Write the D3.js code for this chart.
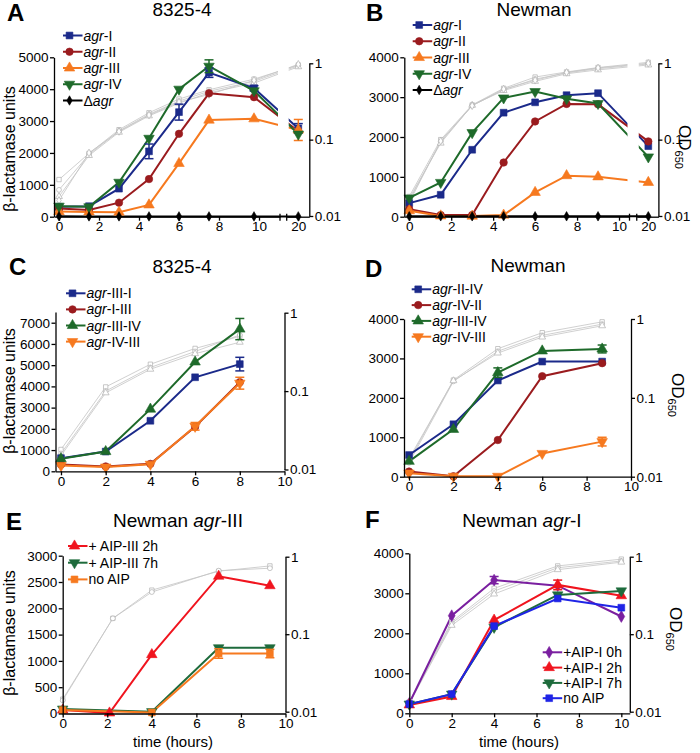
<!DOCTYPE html>
<html><head><meta charset="utf-8">
<script src="https://cdn.jsdelivr.net/npm/d3@7"></script>
<style>body{margin:0;background:#fff} svg{display:block;font-family:"Liberation Sans",Arial,Helvetica,sans-serif}</style>
</head><body><svg id="c" width="700" height="753"></svg>
<script>
// ---------------- DATA ----------------
// Panel A (8325-4)
const tA = [0, 1.5, 3, 4.5, 6, 7.5, 9.75, 20];
const A_agrI   = [310, 330, 880, 2050, 3280, 4520, 4030, 2770];
const A_agrI_e = [0, 0, 0, 230, 250, 150, 80, 150];
const A_agrII  = [260, 210, 440, 1180, 2600, 3870, 3750, 2680];
const A_agrIII = [160, 150, 140, 370, 1670, 3030, 3070, 2720];
const A_agrIII_e = [0, 0, 0, 0, 0, 0, 0, 330];
const A_agrIV  = [330, 310, 1080, 2460, 4000, 4720, 3950, 2590];
const A_agrIV_e = [0, 0, 0, 0, 0, 200, 0, 0];
const A_dagr   = [15, 10, 10, 10, 10, 10, 10, 10];
const A_od1 = [0.030, 0.066, 0.135, 0.225, 0.34, 0.45, 0.62, 0.95];
const A_od2 = [0.022, 0.064, 0.130, 0.215, 0.32, 0.43, 0.58, 0.93];
const A_od3 = [0.018, 0.062, 0.125, 0.205, 0.30, 0.41, 0.55, 0.90];
const A_od4 = [0.016, 0.067, 0.128, 0.210, 0.31, 0.39, 0.60, 0.97];

// Panel B (Newman)
const tB = [0, 1.5, 3, 4.5, 6, 7.5, 9, 20];
const B_agrI   = [340, 550, 1680, 2610, 2870, 3050, 3100, 1770];
const B_agrII  = [190, 40, 40, 1360, 2390, 2830, 2820, 1890];
const B_agrIII = [150, 20, 15, 40, 610, 1030, 1000, 860];
const B_agrIV  = [470, 860, 2110, 2980, 3140, 2960, 2840, 1500];
const B_dagr   = [10, 10, 10, 10, 10, 10, 10, 10];
const B_od1 = [0.018, 0.100, 0.285, 0.47, 0.66, 0.77, 0.88, 1.03];
const B_od2 = [0.016, 0.094, 0.280, 0.45, 0.62, 0.75, 0.85, 0.98];
const B_od3 = [0.017, 0.090, 0.282, 0.44, 0.58, 0.73, 0.82, 0.95];
const B_od4 = [0.015, 0.096, 0.278, 0.46, 0.60, 0.76, 0.87, 1.00];

// Panel C (8325-4 chimeras)
const tC = [0, 2, 4, 6, 8];
const C_IIII   = [620, 930, 2380, 4430, 5050];
const C_IIII_e = [0, 0, 0, 0, 320];
const C_IIII2  = [320, 230, 350, 2100, 4200];
const C_IIIIV  = [590, 930, 2930, 5150, 6700];
const C_IIIIV_e = [0, 0, 0, 0, 500];
const C_IVIII  = [270, 200, 330, 2120, 4150];
const C_IVIII_e = [0, 0, 0, 180, 280];
const C_od1 = [0.018, 0.113, 0.220, 0.350, 0.50];
const C_od2 = [0.016, 0.100, 0.200, 0.320, 0.52];
const C_od3 = [0.015, 0.095, 0.190, 0.300, 0.42];

// Panel D (Newman chimeras)
const tD = [0, 2, 4, 6, 8.7];
const D_IIIV   = [550, 1330, 2440, 2920, 2920];
const D_IVII   = [130, 10, 930, 2550, 2880];
const D_IIIIV  = [390, 1200, 2640, 3190, 3240];
const D_IIIIV_e = [0, 0, 120, 0, 100];
const D_IVIII  = [90, 10, 10, 590, 890];
const D_IVIII_e = [0, 0, 0, 0, 110];
const D_od1 = [0.016, 0.168, 0.42, 0.67, 0.92];
const D_od2 = [0.015, 0.162, 0.39, 0.62, 0.86];
const D_od3 = [0.017, 0.165, 0.37, 0.59, 0.82];

// Panel E (Newman agr-III)
const tE_2h = [0, 2.1, 4, 7, 9.3];
const E_2h  = [65, 10, 1120, 2610, 2430];
const tE_7h = [0, 4, 7, 9.3];
const E_7h  = [85, 35, 1250, 1250];
const E_no  = [65, 20, 1140, 1140];
const E_no_e = [0, 0, 90, 80];
const tE_od = [0, 2.25, 4, 7, 9.3];
const E_od1 = [0.0145, 0.16, 0.37, 0.65, 0.76];
const E_od2 = [0.0140, 0.16, 0.35, 0.66, 0.71];

// Panel F (Newman agr-I)
const tF = [0, 2, 4, 7, 10];
const F_0h = [250, 2440, 3330, 3190, 2420];
const F_0h_e = [0, 0, 90, 0, 0];
const F_2h = [210, 420, 2330, 3210, 2940];
const F_2h_e = [0, 0, 0, 120, 0];
const F_7h = [230, 480, 2150, 2960, 3060];
const F_no = [230, 480, 2180, 2870, 2640];
const F_od1 = [0.0135, 0.145, 0.39, 0.76, 0.93];
const F_od2 = [0.0130, 0.138, 0.36, 0.72, 0.88];
const F_od3 = [0.0128, 0.130, 0.33, 0.68, 0.85];

// tick labels
const ticksA = [0, 1000, 2000, 3000, 4000, 5000];
const ticks4k = [0, 1000, 2000, 3000, 4000];
const ticksC = [0, 1000, 2000, 3000, 4000, 5000, 6000, 7000];
const ticksE = [0, 500, 1000, 1500, 2000, 2500, 3000];
const xTicks10 = [0, 2, 4, 6, 8, 10];
const odTicks = [0.01, 0.1, 1];

// ---------------- STYLE ----------------
const NAVY = '#1b2a8a', DRED = '#9a1b1e', ORANGE = '#f6791f', DGREEN = '#1e6a2a';
const RED = '#f0141e', GREEN2 = '#1e6b3c', PURPLE = '#7a1fa0', BLUE = '#1f24e6';

const svg = d3.select('#c');
const symMap = {
  square: [d3.symbolSquare, 46, 0], circle: [d3.symbolCircle, 44, 0],
  tri: [d3.symbolTriangle, 48, 0], tridown: [d3.symbolTriangle, 48, 180],
  diamond: [d3.symbolDiamond, 40, 0], smalldiamond: [d3.symbolDiamond, 26, 0]
};
function sym(g, shape, cx, cy, color, open, scale) {
  const [t, s, r] = symMap[shape];
  g.append('path').attr('d', d3.symbol().type(t).size(s * (scale || 1))())
    .attr('transform', `translate(${cx},${cy}) rotate(${r})`)
    .attr('fill', open ? '#fff' : color).attr('stroke', color)
    .attr('stroke-width', open ? 0.7 : 0.6);
}
function richText(sel, parts) {
  parts.forEach(p => sel.append('tspan').text(p[0]).attr('font-style', p[1] ? 'italic' : 'normal'));
}

function drawPanel(p) {
  const g = svg.append('g');
  const y = d3.scaleLinear().domain([0, p.yMax]).range([p.y0, p.yTop]);
  const yl = d3.scaleLog().domain([0.01, 1]).range([p.logBot, p.logTop]);
  const segs = p.segs.map(s => Object.assign({}, s, { sc: d3.scaleLinear().domain(s.dom).range(s.rng) }));
  const x = v => { for (const s of segs) if (v <= s.dom[1]) return s.sc(v); return segs[segs.length - 1].sc(v); };

  // OD growth curves (gray)
  const odShapes = ['square', 'circle', 'tri', 'diamond'];
  p.od.forEach((arr, i) => {
    const pts = arr.map((v, j) => [x(p.odT[j]), yl(v)]);
    g.append('path').attr('d', d3.line()(pts)).attr('fill', 'none')
      .attr('stroke', '#c4c4c4').attr('stroke-width', 0.8);
  });
  // colored lines
  p.series.forEach(s => {
    const pts = s.v.map((v, j) => [x(s.t[j]), y(v)]);
    g.append('path').attr('d', d3.line()(pts)).attr('fill', 'none')
      .attr('stroke', s.color).attr('stroke-width', 2);
  });
  // break gap
  if (segs.length > 1) {
    g.append('rect').attr('x', segs[0].rng[1] - 2).attr('width', segs[1].rng[0] - segs[0].rng[1] + 4)
      .attr('y', p.yTop - 12).attr('height', p.y0 - 2 - (p.yTop - 12)).attr('fill', '#fff');
  }
  // gray markers
  p.od.forEach((arr, i) => {
    arr.forEach((v, j) => sym(g, odShapes[i % 4], x(p.odT[j]), yl(v), '#b0b0b0', true, 0.42));
  });
  // error bars + markers
  p.series.forEach(s => {
    if (s.e) s.e.forEach((e, j) => {
      if (!e) return;
      const cx = x(s.t[j]), y1 = y(s.v[j] - e), y2 = y(s.v[j] + e);
      g.append('line').attr('x1', cx).attr('x2', cx).attr('y1', y1).attr('y2', y2).attr('stroke', s.color).attr('stroke-width', 1.5);
      [y1, y2].forEach(yy => g.append('line').attr('x1', cx - 4.5).attr('x2', cx + 4.5).attr('y1', yy).attr('y2', yy).attr('stroke', s.color).attr('stroke-width', 1.5));
    });
    s.v.forEach((v, j) => sym(g, s.shape, x(s.t[j]), y(v), s.color, false));
  });

  // axes
  const ax = svg.append('g').attr('font-size', 13.5);
  const styleAxis = a => { a.selectAll('path,line').attr('stroke', '#000').attr('stroke-width', 1.3); a.selectAll('text').attr('fill', '#000').attr('font-family', 'Liberation Sans, Arial, sans-serif').attr('font-size', 13.5); };
  const left = ax.append('g').attr('transform', `translate(${p.xL},0)`)
    .call(d3.axisLeft(y).tickValues(p.yTicks).tickSize(4).tickSizeOuter(0).tickPadding(1.5).tickFormat(d3.format('d')));
  styleAxis(left);
  segs.forEach((s, k) => {
    const a = ax.append('g').attr('transform', `translate(0,${p.y0})`)
      .call(d3.axisBottom(s.sc).tickValues(s.ticks).tickSize(4).tickSizeOuter(0).tickPadding(1).tickFormat(d3.format('d')));
    styleAxis(a);
    if (segs.length > 1) {
      const ends = k === 0 ? [s.rng[1]] : [s.rng[0]];
      ends.forEach(ex => ax.append('line').attr('x1', ex).attr('x2', ex).attr('y1', p.y0 - 3).attr('y2', p.y0 + 4).attr('stroke', '#000').attr('stroke-width', 1.3));
    }
  });
  const right = ax.append('g').attr('transform', `translate(${p.xR},0)`)
    .call(d3.axisRight(yl).tickValues(odTicks).tickSize(4).tickSizeOuter(0).tickPadding(1.5).tickFormat(d => d === 1 ? '1' : d === 0.1 ? '0.1' : '0.01'));
  styleAxis(right);

  // titles
  svg.append('text').attr('x', p.letter[1]).attr('y', p.letter[2]).attr('font-size', 24).attr('font-weight', 'bold').text(p.letter[0]);
  const tt = svg.append('text').attr('x', p.title[1]).attr('y', p.title[2]).attr('font-size', 19).attr('text-anchor', 'middle');
  richText(tt, p.title[0]);

  if (p.ylab) svg.append('text').attr('transform', `translate(${p.ylab[0]},${p.ylab[1]}) rotate(-90)`)
    .attr('text-anchor', 'middle').attr('font-size', 16).text('β-lactamase units');
  if (p.odlab) {
    const t = svg.append('text').attr('transform', `translate(${p.odlab[0]},${p.odlab[1]}) rotate(90)`)
      .attr('text-anchor', 'middle').attr('font-size', 17);
    t.append('tspan').text('OD');
    t.append('tspan').text('650').attr('font-size', 11).attr('dy', 4);
  }
  if (p.xlab) svg.append('text').attr('x', p.xlab[0]).attr('y', p.xlab[1]).attr('text-anchor', 'middle').attr('font-size', 15).text('time (hours)');

  // legend
  const L = p.leg;
  p.series.forEach((s, i) => {
    const yy = L.y + i * L.dy;
    svg.append('line').attr('x1', L.x).attr('x2', L.x + 19.5).attr('y1', yy).attr('y2', yy).attr('stroke', s.color).attr('stroke-width', 2);
    sym(svg, s.shape, L.x + 6.5, yy, s.color, false);
    const t = svg.append('text').attr('x', L.x + 20.5).attr('y', yy + 5).attr('font-size', 14);
    richText(t, s.name);
  });
}

// ---------------- PANELS ----------------
drawPanel({
  letter: ['A', 7, 20.5], title: [[['8325-4', 0]], 182, 16], ylab: [15, 149],
  xL: 54, y0: 216.7, yMax: 5000, yTop: 57.3, yTicks: ticksA,
  segs: [{ dom: [-0.25, 11.05], rng: [54, 280], ticks: xTicks10 }, { dom: [19.42, 20.55], rng: [286.7, 309.3], ticks: [20] }],
  xR: 309.3, logTop: 63.3, logBot: 216,
  odT: tA, od: [A_od1, A_od2, A_od3, A_od4],
  leg: { x: 63, y: 35.5, dy: 16.25 },
  series: [
    { name: [['agr', 1], ['-I', 0]], color: NAVY, shape: 'square', t: tA, v: A_agrI, e: A_agrI_e },
    { name: [['agr', 1], ['-II', 0]], color: DRED, shape: 'circle', t: tA, v: A_agrII },
    { name: [['agr', 1], ['-III', 0]], color: ORANGE, shape: 'tri', t: tA, v: A_agrIII, e: A_agrIII_e },
    { name: [['agr', 1], ['-IV', 0]], color: DGREEN, shape: 'tridown', t: tA, v: A_agrIV, e: A_agrIV_e },
    { name: [['Δ', 0], ['agr', 1]], color: '#000', shape: 'smalldiamond', t: tA, v: A_dagr }
  ]
});
drawPanel({
  letter: ['B', 366, 20.5], title: [[['Newman', 0]], 534, 15.5], odlab: [679, 147],
  xL: 404.3, y0: 216.7, yMax: 4000, yTop: 57.3, yTicks: ticks4k,
  segs: [{ dom: [-0.25, 10.5], rng: [404, 629.5], ticks: xTicks10 }, { dom: [19.45, 20.48], rng: [636.75, 658.4], ticks: [20] }],
  xR: 658.4, logTop: 63.3, logBot: 216,
  odT: tB, od: [B_od1, B_od2, B_od3, B_od4],
  leg: { x: 412.7, y: 25, dy: 16.25 },
  series: [
    { name: [['agr', 1], ['-I', 0]], color: NAVY, shape: 'square', t: tB, v: B_agrI },
    { name: [['agr', 1], ['-II', 0]], color: DRED, shape: 'circle', t: tB, v: B_agrII },
    { name: [['agr', 1], ['-III', 0]], color: ORANGE, shape: 'tri', t: tB, v: B_agrIII },
    { name: [['agr', 1], ['-IV', 0]], color: DGREEN, shape: 'tridown', t: tB, v: B_agrIV },
    { name: [['Δ', 0], ['agr', 1]], color: '#000', shape: 'smalldiamond', t: tB, v: B_dagr }
  ]
});
drawPanel({
  letter: ['C', 9, 275], title: [[['8325-4', 0]], 182, 273], ylab: [15, 391],
  xL: 55.5, y0: 471.3, yMax: 7500, yTop: 312.1, yTicks: ticksC,
  segs: [{ dom: [-0.25, 10], rng: [55.4, 284.5], ticks: xTicks10 }],
  xR: 284.5, logTop: 312.7, logBot: 469.5,
  odT: tC, od: [C_od1, C_od2, C_od3],
  leg: { x: 66, y: 293.3, dy: 16.1 },
  series: [
    { name: [['agr', 1], ['-III-I', 0]], color: NAVY, shape: 'square', t: tC, v: C_IIII, e: C_IIII_e },
    { name: [['agr', 1], ['-I-III', 0]], color: DRED, shape: 'circle', t: tC, v: C_IIII2 },
    { name: [['agr', 1], ['-III-IV', 0]], color: DGREEN, shape: 'tri', t: tC, v: C_IIIIV, e: C_IIIIV_e },
    { name: [['agr', 1], ['-IV-III', 0]], color: ORANGE, shape: 'tridown', t: tC, v: C_IVIII, e: C_IVIII_e }
  ]
});
drawPanel({
  letter: ['D', 365, 277], title: [[['Newman', 0]], 528, 272], odlab: [672, 395],
  xL: 404, y0: 476.7, yMax: 4000, yTop: 319, yTicks: ticks4k,
  segs: [{ dom: [-0.25, 10], rng: [403.5, 631], ticks: xTicks10 }],
  xR: 631, logTop: 319, logBot: 476.7,
  odT: tD, od: [D_od1, D_od2, D_od3],
  leg: { x: 411.7, y: 289.3, dy: 15.8 },
  series: [
    { name: [['agr', 1], ['-II-IV', 0]], color: NAVY, shape: 'square', t: tD, v: D_IIIV },
    { name: [['agr', 1], ['-IV-II', 0]], color: DRED, shape: 'circle', t: tD, v: D_IVII },
    { name: [['agr', 1], ['-III-IV', 0]], color: DGREEN, shape: 'tri', t: tD, v: D_IIIIV, e: D_IIIIV_e },
    { name: [['agr', 1], ['-IV-III', 0]], color: ORANGE, shape: 'tridown', t: tD, v: D_IVIII, e: D_IVIII_e }
  ]
});
drawPanel({
  letter: ['E', 6, 530], title: [[['Newman ', 0], ['agr', 1], ['-III', 0]], 178, 527], ylab: [15, 633], xlab: [173, 747],
  xL: 62.7, y0: 713.5, yMax: 3000, yTop: 555.7, yTicks: ticksE,
  segs: [{ dom: [0, 10], rng: [62.7, 285.5], ticks: xTicks10 }],
  xR: 285.5, logTop: 556.7, logBot: 711.7,
  odT: tE_od, od: [E_od1, E_od2],
  leg: { x: 68, y: 546, dy: 16.7 },
  series: [
    { name: [['+ AIP-III 2h', 0]], color: RED, shape: 'tri', t: tE_2h, v: E_2h },
    { name: [['+ AIP-III 7h', 0]], color: GREEN2, shape: 'tridown', t: tE_7h, v: E_7h },
    { name: [['no AIP', 0]], color: ORANGE, shape: 'square', t: tE_7h, v: E_no, e: E_no_e }
  ]
});
drawPanel({
  letter: ['F', 365, 528], title: [[['Newman ', 0], ['agr', 1], ['-I', 0]], 522, 527], odlab: [670, 629], xlab: [519, 747],
  xL: 409.3, y0: 713.3, yMax: 4000, yTop: 553.3, yTicks: ticks4k,
  segs: [{ dom: [0, 10.4], rng: [409.3, 629.8], ticks: xTicks10 }],
  xR: 629.8, logTop: 556.7, logBot: 711.7,
  odT: tF, od: [F_od1, F_od2, F_od3],
  leg: { x: 542.7, y: 652.3, dy: 15.3 },
  series: [
    { name: [['+AIP-I 0h', 0]], color: PURPLE, shape: 'diamond', t: tF, v: F_0h, e: F_0h_e },
    { name: [['+AIP-I 2h', 0]], color: RED, shape: 'tri', t: tF, v: F_2h, e: F_2h_e },
    { name: [['+AIP-I 7h', 0]], color: GREEN2, shape: 'tridown', t: tF, v: F_7h },
    { name: [['no AIP', 0]], color: BLUE, shape: 'square', t: tF, v: F_no }
  ]
});
</script></body></html>
